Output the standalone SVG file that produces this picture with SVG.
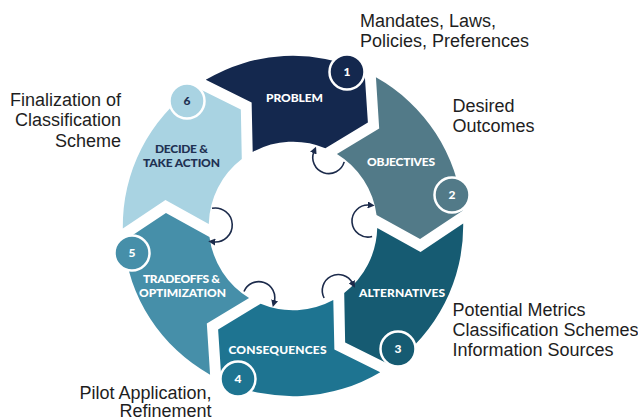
<svg xmlns="http://www.w3.org/2000/svg" xmlns:xlink="http://www.w3.org/1999/xlink" width="638" height="419" viewBox="0 0 638 419">
  <style>
    .label { font-family: Lato, "Noto Sans", "DejaVu Sans", sans-serif; font-weight: 900; font-size: 12px; text-anchor: middle; fill: #ffffff; }
    .label.dark { fill: #1f3152; }
    .badge { stroke: #ffffff; stroke-width: 2.5; }
    .num { font-family: Lato, "Noto Sans", sans-serif; font-weight: 900; font-size: 12px; text-anchor: middle; fill: #ffffff; }
    .num.dark { fill: #1f3152; }
    .note { font-family: "Liberation Sans", Arial, sans-serif; font-size: 18px; fill: #1e1e1e; }
    .flow { fill: none; stroke: #1c2b4b; stroke-width: 1.6; marker-end: url(#head); }
  </style>
  <defs>
    <!-- one 60-degree ring segment, centred on the top, arrow point clockwise, notch behind -->
    <path id="seg" d="M-79.5,-150.5 A170.3,170.3 0 0 1 79.5,-150.5 L80.2,-99.4 L36.37,-76 A84.25,84.25 0 0 0 -36.37,-76 L-34.85,-125.4 Z"/>
    <marker id="head" viewBox="0 0 8 8" refX="2" refY="4" markerWidth="7" markerHeight="7" markerUnits="userSpaceOnUse" orient="auto">
      <path d="M0,0 L8,4 L0,8 Z" fill="#1c2b4b"/>
    </marker>
  </defs>

  <g id="problem">
    <use xlink:href="#seg" href="#seg" transform="translate(293,226) rotate(-3)" fill="#14284e"/>
    <text class="label" x="294.5" y="101.5" textLength="57">PROBLEM</text>
    <circle class="badge" cx="347" cy="72" r="17.5" fill="#14284e"/>
    <text class="num" x="347" y="76">1</text>
    <text class="note" x="360" y="27">Mandates, Laws,</text>
    <text class="note" x="360" y="47">Policies, Preferences</text>
  </g>

  <g id="objectives">
    <use xlink:href="#seg" href="#seg" transform="translate(293,226) rotate(57)" fill="#527a88"/>
    <text class="label" x="401" y="166" textLength="68">OBJECTIVES</text>
    <circle class="badge" cx="452" cy="195" r="17.5" fill="#527a88"/>
    <text class="num" x="452" y="199">2</text>
    <text class="note" x="452.5" y="112">Desired</text>
    <text class="note" x="452.5" y="132">Outcomes</text>
  </g>

  <g id="alternatives">
    <use xlink:href="#seg" href="#seg" transform="translate(293,226) rotate(117)" fill="#165b72"/>
    <text class="label" x="402" y="297" textLength="86">ALTERNATIVES</text>
    <circle class="badge" cx="398" cy="349" r="17.5" fill="#165b72"/>
    <text class="num" x="398" y="353">3</text>
    <text class="note" x="452.5" y="315.5">Potential Metrics</text>
    <text class="note" x="452.5" y="336">Classification Schemes</text>
    <text class="note" x="452.5" y="356">Information Sources</text>
  </g>

  <g id="consequences">
    <use xlink:href="#seg" href="#seg" transform="translate(293,226) rotate(177)" fill="#1e7491"/>
    <text class="label" x="277.5" y="354" textLength="98">CONSEQUENCES</text>
    <circle class="badge" cx="238" cy="379" r="17.5" fill="#1e7491"/>
    <text class="num" x="238" y="383">4</text>
    <text class="note" x="79.5" y="398.5">Pilot Application,</text>
    <text class="note" x="119.5" y="416.5">Refinement</text>
  </g>

  <g id="tradeoffs">
    <use xlink:href="#seg" href="#seg" transform="translate(293,226) rotate(237)" fill="#468fa9"/>
    <text class="label" x="181.5" y="282.5" textLength="77">TRADEOFFS &amp;</text>
    <text class="label" x="182.5" y="297" textLength="87">OPTIMIZATION</text>
    <circle class="badge" cx="132" cy="253" r="17.5" fill="#468fa9"/>
    <text class="num" x="132" y="257">5</text>
  </g>

  <g id="decide">
    <use xlink:href="#seg" href="#seg" transform="translate(293,226) rotate(297)" fill="#a9d3e2"/>
    <text class="label dark" x="181.5" y="152.5" textLength="53">DECIDE &amp;</text>
    <text class="label dark" x="181.5" y="167" textLength="77">TAKE ACTION</text>
    <circle class="badge" cx="187" cy="101" r="17.5" fill="#a9d3e2"/>
    <text class="num dark" x="187" y="105">6</text>
    <text class="note" x="121" y="105.5" text-anchor="end">Finalization of</text>
    <text class="note" x="121" y="126" text-anchor="end">Classification</text>
    <text class="note" x="121" y="147" text-anchor="end">Scheme</text>
  </g>

  <g id="connectors">
    <path class="flow" d="M344.2,161.9 A16,16 0 1 1 314,151.5"/>
    <path class="flow" d="M372.1,236.5 A16,16 0 1 1 369.4,205.1"/>
    <path class="flow" d="M324.1,298 A16,16 0 1 1 352.5,283.2"/>
    <path class="flow" d="M244,291.5 A16,16 0 0 1 274.2,301.9"/>
    <path class="flow" d="M212,208.3 A17,17 0 1 1 213.5,241.9"/>
  </g>
</svg>
